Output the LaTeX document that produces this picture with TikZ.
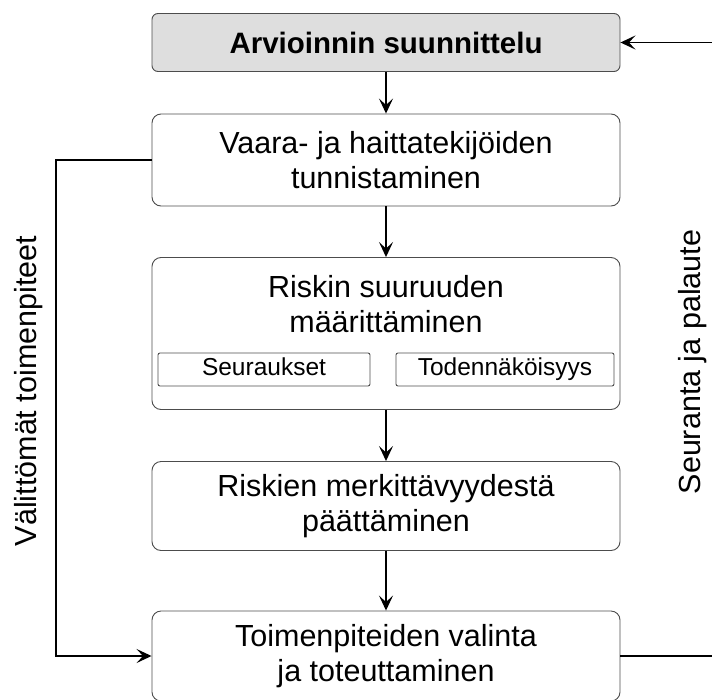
\documentclass[tikz,border=0pt]{standalone}
\usepackage        {fontspec}
\setmainfont       {Liberation Sans}
\usepackage        {tikz}
\usetikzlibrary    {arrows.meta}

\begin{document}
\begin{tikzpicture}
  [x=1pt,y=-1pt,
   laatikko/.style={draw=black!70,line width=0.9pt,rounded corners=9pt,
     minimum width=468pt,inner sep=0pt,align=center,
     font=\fontsize{30.5}{35}\selectfont},
   pieni/.style={draw=black!70,line width=0.9pt,rounded corners=2pt,
     minimum height=33pt,inner sep=0pt,text height=17.5pt,text depth=5.5pt,
     font=\fontsize{24.5}{28}\selectfont},
   teksti/.style={align=center,inner sep=0pt,font=\fontsize{30.5}{35}\selectfont},
   nuoli/.style={-{Stealth[length=15pt,width=14pt,inset=6.5pt]},line width=1.5pt}]
  \useasboundingbox (0,0) rectangle (712,699);
  \clip (0,0) rectangle (712,699);

  \node[laatikko,minimum height=58pt,rounded corners=6pt,fill=black!13,
        font=\fontsize{29.5}{33}\selectfont\bfseries] (suunnittelu) at (386,42.5) {Arvioinnin suunnittelu};
  \node[laatikko,minimum height=92pt] (tunnistus) at (386,160) {Vaara- ja haittatekijöiden\\tunnistaminen};
  \node[laatikko,minimum height=152pt] (riski) at (386,333.5) {};
  \node[teksti] (riskiteksti) at (386,304) {Riskin suuruuden\\määrittäminen};
  \node[pieni,minimum width=212pt] (seuraukset) at (264,369.5) {Seuraukset};
  \node[pieni,minimum width=218pt] (todennakoisyys) at (505,369.5) {Todennäköisyys};
  \node[laatikko,minimum height=89pt] (merkitys) at (386,506) {Riskien merkittävyydestä\\päättäminen};
  \node[laatikko,minimum height=90pt] (toimenpiteet) at (386,656) {Toimenpiteiden valinta\\ja toteuttaminen};

  \node[teksti,rotate=90] (valittomat) at (29,391) {Välittömät toimenpiteet};
  \node[teksti,rotate=90] (seuranta) at (693,362) {Seuranta ja palaute};

  \coordinate (vasen) at (56,160);
  \coordinate (oikeaala) at (720,656);
  \coordinate (oikeayla) at (720,42.5);

    \draw[nuoli] (suunnittelu) -- (tunnistus);
    \draw[nuoli] (tunnistus) -- (riski);
    \draw[nuoli] (riski) -- (merkitys);
    \draw[nuoli] (merkitys) -- (toimenpiteet);

    \draw[nuoli] (tunnistus.west) -- (vasen) |- (toimenpiteet.west);
    \draw[nuoli] (toimenpiteet.east) -- (oikeaala) -- (oikeayla) -- (suunnittelu.east);

\end{tikzpicture}
\end{document}
